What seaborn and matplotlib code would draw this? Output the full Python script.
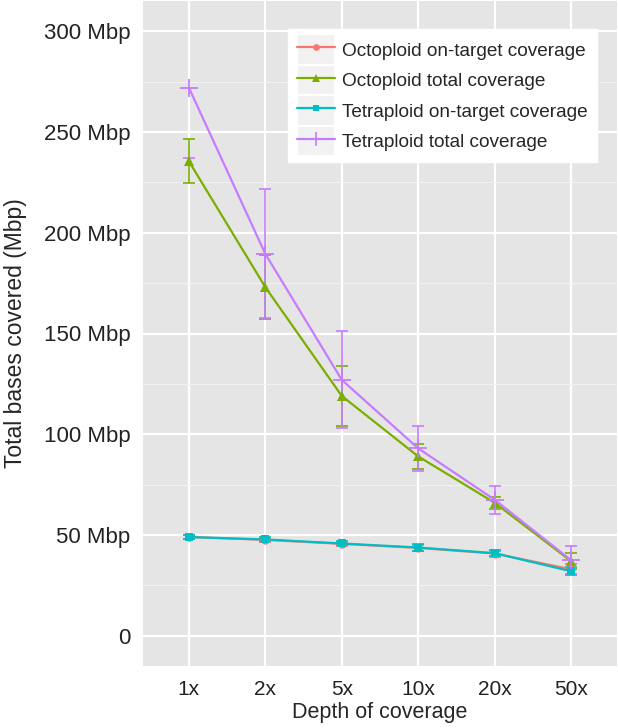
import seaborn as sns
import matplotlib.pyplot as plt
import pandas as pd
import numpy as np
from matplotlib.legend_handler import HandlerLine2D
from matplotlib.lines import Line2D
from matplotlib.patches import Rectangle
from matplotlib.ticker import MultipleLocator


depths = ["1x", "2x", "5x", "10x", "20x", "50x"]
series = ["Octoploid on-target coverage", "Octoploid total coverage",
          "Tetraploid on-target coverage", "Tetraploid total coverage"]

# means and sd (Mbp)
octo_on = [49, 47.6, 45.6, 43.6, 40.8, 33]
octo_on_sd = [1, 1, 1, 1.5, 1.5, 2.5]
octo_total = [235.5, 173, 119, 89, 66, 37]
octo_total_sd = [11, 16, 15, 6, 3, 4]
tetra_on = [49, 47.8, 45.8, 43.8, 41, 32]
tetra_on_sd = [1, 1, 1, 1.5, 1.5, 2]
tetra_total = [272, 189.5, 127, 93, 67.5, 37.5]
tetra_total_sd = [35, 32, 24, 11, 7, 7]

ytick_vals = [0, 50, 100, 150, 200, 250, 300]
ytick_labels = ["0", "50 Mbp", "100 Mbp", "150 Mbp", "200 Mbp", "250 Mbp", "300 Mbp"]

colors = ["#F8766D", "#7CAE00", "#00BFC4", "#C77CFF"]
markers = ["o", "^", "s", "+"]
msizes = [6, 7, 6, 13]

means = [octo_on, octo_total, tetra_on, tetra_total]
sds = [octo_on_sd, octo_total_sd, tetra_on_sd, tetra_total_sd]

df = pd.DataFrame({
    "depth": np.tile(depths, 4),
    "pos": np.tile(np.arange(len(depths)), 4),
    "series": np.repeat(series, len(depths)),
    "value": np.concatenate(means),
    "sd": np.concatenate(sds),
})

sns.set_theme(style="darkgrid", rc={
    "axes.facecolor": "#E5E5E5",
    "grid.color": "white",
    "axes.edgecolor": "none",
})
plt.rcParams["font.family"] = ["Liberation Sans", "DejaVu Sans"]

ymax = 300

fig = plt.figure(figsize=(6.18, 7.28), dpi=100)
ax = fig.add_axes([143 / 618, 62 / 728, 474 / 618, 665 / 728])

# error bars (upper end beyond the scale limit -> only lower cap, like ggplot)
for name, col in zip(series, colors):
    d = df[df["series"] == name]
    lo = d["value"] - d["sd"]
    hi = d["value"] + d["sd"]
    ok = hi <= ymax
    ax.errorbar(d["pos"][ok], d["value"][ok], yerr=d["sd"][ok], fmt="none",
                ecolor=col, elinewidth=1.2, capsize=4, capthick=1.2, zorder=3)
    if (~ok).any():
        ax.plot(d["pos"][~ok], lo[~ok], ls="none", marker="_", ms=8,
                mew=1.2, color=col, zorder=3)

for name, col, mk, ms in zip(series, colors, markers, msizes):
    sns.lineplot(data=df[df["series"] == name], x="pos", y="value", color=col,
                 marker=mk, markersize=ms, markeredgecolor=col,
                 markeredgewidth=1.3 if mk == "+" else 0,
                 linewidth=1.6, errorbar=None, ax=ax, zorder=4)

ax.set_xlim(-0.6, len(depths) - 0.4)
ax.set_ylim(-15, 315)
ax.set_xticks(range(len(depths)))
ax.set_xticklabels(depths)
ax.set_yticks(ytick_vals)
ax.set_yticklabels(ytick_labels)
ax.yaxis.set_minor_locator(MultipleLocator(25))
ax.grid(which="major", color="white", linewidth=1.6)
ax.grid(which="minor", axis="y", color="#F2F2F2", linewidth=0.7)
ax.tick_params(axis="both", which="major", length=4, width=1, color="#7F7F7F",
               labelsize=16, labelcolor="#222222", pad=5)
ax.tick_params(axis="x", which="major", labelsize=15, pad=6)
ax.tick_params(axis="both", which="minor", length=0)
for s in ax.spines.values():
    s.set_visible(False)

ax.set_xlabel("Depth of coverage", fontsize=15.5, labelpad=2)
ax.set_ylabel("Total bases covered (Mbp)", fontsize=16.5, labelpad=12)


class KeyHandler(HandlerLine2D):
    def create_artists(self, legend, orig_handle, xdescent, ydescent,
                       width, height, fontsize, trans):
        bg = Rectangle((-xdescent, -ydescent - 3), width, height + 6,
                       facecolor="#F2F2F2", edgecolor="white", linewidth=1.5,
                       transform=trans)
        arts = super().create_artists(legend, orig_handle, xdescent, ydescent,
                                      width, height, fontsize, trans)
        return [bg] + arts


handles = [Line2D([], [], color=c, marker=m, markersize=s * 0.8,
                  markeredgewidth=1.2 if m == "+" else 0, linewidth=1.6)
           for c, m, s in zip(colors, markers, msizes)]
leg = ax.legend(handles, series, loc="upper left", bbox_to_anchor=(0.305, 0.958),
                fontsize=13.7, frameon=True, fancybox=False, framealpha=1,
                facecolor="white", edgecolor="white", handlelength=2.0,
                handleheight=1.4, labelspacing=0.45, handletextpad=0.35,
                borderpad=0.5, borderaxespad=0,
                handler_map={Line2D: KeyHandler()})
leg.set_zorder(10)

fig.savefig("out.png", dpi=100)
